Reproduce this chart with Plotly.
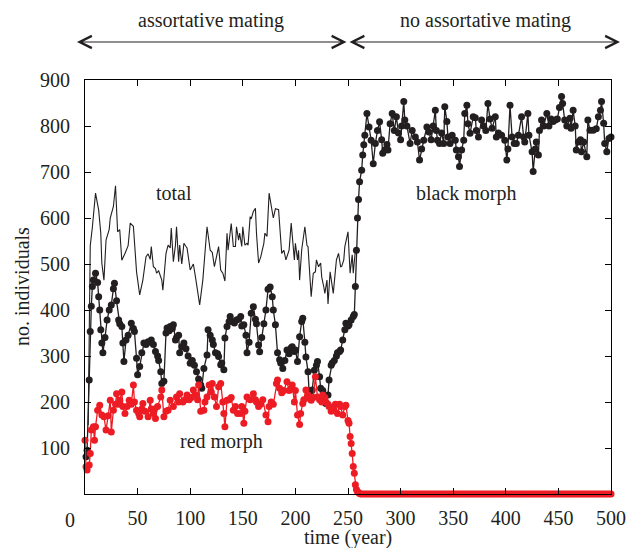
import plotly.graph_objects as go

# ---- data ----
total_t = [3, 5, 7, 10, 13, 15, 16, 18, 20, 23, 24, 27, 29, 31, 33, 35, 38, 41, 43, 46, 49, 50, 52, 55, 58,
           60, 62, 63, 65, 67, 68, 70, 73, 74, 77, 79, 81, 82, 84, 86, 87, 89, 90, 92, 94, 96, 97, 100, 103,
           105, 109, 112, 116, 119, 121, 123, 125, 127, 129, 131, 133, 135, 136, 138, 139, 141, 143, 144, 146,
           147, 149, 150, 152, 154, 155, 157, 158, 160, 162, 163, 165, 167, 170, 171, 173, 175, 178, 179, 181,
           184, 187, 189, 191, 194, 196, 199, 200, 202, 203, 204, 206, 208, 209, 211, 212, 214, 215, 217, 219,
           220, 222, 224, 225, 227, 228, 230, 231, 233, 235, 236, 238, 239, 241, 243, 244, 246, 247, 249, 250,
           252, 254, 255, 256, 257]
total_v = [150, 540, 580, 654, 617, 567, 502, 465, 552, 575, 600, 625, 670, 570, 575, 508, 523, 540, 589, 582,
           483, 465, 433, 465, 516, 522, 510, 538, 494, 490, 480, 485, 465, 443, 523, 541, 535, 578, 505, 541,
           581, 505, 541, 500, 545, 538, 535, 487, 500, 472, 411, 465, 581, 530, 525, 494, 515, 538, 487, 480,
           463, 567, 530, 567, 588, 538, 538, 581, 552, 567, 538, 581, 541, 545, 541, 603, 598, 614, 621, 567,
           502, 515, 545, 567, 560, 654, 618, 600, 620, 618, 523, 530, 509, 530, 589, 509, 545, 509, 530, 465,
           531, 567, 581, 540, 538, 465, 429, 480, 483, 509, 494, 502, 472, 450, 436, 465, 413, 483, 443, 436,
           485, 509, 523, 494, 495, 509, 538, 566, 570, 480, 520, 480, 500, 530]

black_t = [1, 2, 4, 5, 6, 7, 8, 10, 12, 13, 14, 15, 16, 17, 19, 21, 23, 25, 27, 28, 30, 32, 33, 35, 36, 37, 39,
           41, 44, 46, 47, 49, 50, 52, 54, 56, 58, 60, 62, 63, 65, 67, 69, 70, 72, 73, 75, 77, 78, 80, 81, 83,
           84, 86, 87, 89, 90, 92, 94, 96, 98, 100, 102, 104, 106, 108, 110, 111, 113, 116, 117, 119, 121, 122,
           124, 126, 127, 129, 130, 132, 133, 135, 137, 138, 140, 142, 144, 146, 148, 149, 151, 153, 154, 156,
           158, 160, 162, 163, 165, 166, 168, 170, 172, 174, 176, 178, 179, 181, 183, 185, 186, 188, 190, 192,
           194, 196, 197, 199, 200, 202, 204, 206, 207, 209, 210, 212, 213, 215, 216, 218, 220, 221, 223, 224,
           226, 227, 229, 231, 232, 234, 235, 237, 239, 240, 242, 243, 245, 247, 248, 250, 251, 253, 255, 256,
           257, 258, 259, 260, 261, 263, 264, 265, 266, 268, 270, 272, 274, 276, 278, 280, 282, 283, 285, 287,
           288, 290, 292, 294, 296, 298, 300, 301, 303, 304, 306, 309, 311, 314, 316, 318, 320, 322, 325, 327,
           329, 331, 333, 334, 335, 337, 339, 341, 342, 344, 345, 347, 349, 352, 353, 355, 356, 358, 360, 361,
           363, 364, 366, 369, 371, 372, 374, 377, 379, 381, 383, 385, 387, 390, 391, 393, 396, 399, 401, 402,
           404, 406, 408, 410, 412, 415, 417, 418, 421, 422, 425, 426, 428, 429, 431, 432, 434, 436, 439, 441,
           443, 445, 447, 449, 451, 453, 454, 456, 458, 461, 462, 464, 466, 467, 469, 471, 472, 474, 477, 478,
           480, 483, 486, 488, 490, 491, 493, 494, 496, 498, 500]
black_v = [81, 95, 248, 353, 408, 451, 465, 480, 460, 429, 400, 357, 328, 307, 340, 378, 400, 411, 446, 458,
           420, 378, 370, 364, 328, 288, 335, 345, 371, 360, 353, 295, 259, 277, 307, 328, 325, 331, 330, 335,
           325, 310, 300, 290, 266, 240, 245, 350, 361, 355, 364, 360, 368, 335, 340, 345, 307, 320, 328, 316,
           300, 284, 290, 280, 266, 250, 237, 230, 273, 302, 357, 345, 335, 325, 307, 305, 299, 281, 285, 270,
           339, 364, 375, 386, 375, 372, 378, 380, 386, 365, 368, 345, 307, 330, 393, 407, 380, 370, 324, 309,
           340, 370, 400, 445, 450, 429, 400, 368, 307, 292, 285, 273, 290, 313, 305, 318, 320, 310, 313, 288,
           342, 375, 382, 330, 298, 266, 222, 225, 226, 269, 280, 288, 255, 230, 225, 204, 197, 215, 248, 280,
           285, 290, 300, 307, 310, 313, 335, 357, 371, 365, 368, 378, 386, 390, 451, 530, 600, 640, 679, 704,
           737, 759, 780, 827, 798, 769, 718, 762, 790, 809, 770, 741, 748, 760, 748, 805, 827, 790, 820, 785,
           770, 800, 853, 813, 800, 762, 790, 776, 765, 726, 750, 769, 798, 787, 770, 800, 834, 790, 769, 762,
           785, 762, 842, 810, 776, 762, 780, 769, 748, 733, 712, 748, 769, 827, 845, 805, 784, 820, 818, 790,
           776, 813, 800, 790, 849, 815, 795, 820, 776, 785, 780, 769, 726, 750, 845, 776, 762, 762, 780, 820,
           776, 765, 827, 780, 744, 701, 750, 765, 737, 790, 813, 800, 827, 800, 815, 810, 813, 815, 840, 864,
           849, 813, 800, 817, 795, 834, 800, 748, 765, 770, 744, 765, 733, 813, 791, 791, 794, 820, 834, 853,
           806, 762, 744, 773, 776]

red_t = [0, 1, 2, 4, 5, 6, 8, 9, 10, 12, 14, 16, 18, 20, 22, 24, 25, 27, 29, 30, 32, 33, 35, 36, 38, 40, 42,
         44, 46, 47, 49, 51, 52, 54, 55, 57, 60, 62, 63, 65, 66, 67, 69, 72, 73, 75, 77, 79, 81, 84, 87, 89, 90,
         93, 95, 97, 99, 101, 103, 105, 107, 108, 110, 113, 114, 116, 118, 120, 121, 123, 125, 127, 129, 131,
         132, 133, 135, 137, 139, 141, 143, 145, 148, 149, 151, 152, 154, 157, 160, 162, 163, 165, 167, 169,
         172, 174, 175, 177, 179, 182, 183, 185, 187, 189, 192, 194, 196, 197, 199, 200, 202, 204, 205, 207,
         208, 210, 212, 213, 215, 217, 219, 221, 223, 225, 226, 228, 229, 231, 232, 234, 236, 238, 240, 242,
         243, 245, 247, 248, 250, 251, 252, 253, 254, 255, 256, 257, 258, 259, 260, 261]
red_v = [117, 59, 52, 63, 88, 139, 146, 117, 146, 182, 193, 172, 168, 139, 170, 204, 135, 182, 195, 218, 195,
         204, 222, 190, 175, 190, 204, 195, 237, 200, 182, 175, 168, 185, 197, 180, 168, 204, 185, 175, 185,
         164, 190, 211, 226, 168, 180, 182, 204, 190, 211, 200, 218, 200, 205, 215, 205, 210, 226, 215, 205,
         237, 180, 182, 200, 211, 237, 222, 240, 211, 190, 233, 240, 200, 175, 146, 204, 205, 210, 182, 190,
         175, 175, 190, 154, 180, 211, 205, 218, 205, 200, 190, 195, 205, 172, 157, 190, 200, 195, 240, 248,
         230, 220, 225, 244, 225, 230, 237, 200, 225, 172, 151, 175, 197, 205, 226, 215, 208, 204, 210, 255,
         211, 205, 200, 215, 210, 200, 195, 190, 180, 185, 195, 175, 195, 190, 172, 190, 193, 160, 154, 125,
         110, 88, 60, 45, 20, 10, 5, 3, 1]
# red morph extinct after year ~262
red_zero_t = list(range(262, 501, 2))
red_zero_v = [0] * len(red_zero_t)

BLACK = "#231f20"
RED = "#ed1c24"
FONT = "Liberation Serif"

fig = go.Figure()
fig.add_trace(go.Scatter(x=total_t, y=total_v, mode="lines",
                         line=dict(color=BLACK, width=1.1), showlegend=False))
fig.add_trace(go.Scatter(x=black_t, y=black_v, mode="lines+markers",
                         line=dict(color=BLACK, width=1.3),
                         marker=dict(color=BLACK, size=7), cliponaxis=False, showlegend=False))
fig.add_trace(go.Scatter(x=red_t + red_zero_t, y=red_v + red_zero_v, mode="lines+markers",
                         line=dict(color=RED, width=1.3),
                         marker=dict(color=RED, size=7), cliponaxis=False, showlegend=False))

axis_common = dict(showline=True, linecolor="black", linewidth=1, mirror="ticks",
                   ticks="inside", ticklen=6, tickwidth=1, tickcolor="black",
                   showgrid=False, zeroline=False, automargin=False,
                   tickfont=dict(family=FONT, size=20, color="#231f20"))

fig.update_xaxes(range=[0, 500], tickvals=[50, 100, 150, 200, 250, 300, 350, 400, 450, 500],
                 ticklabelstandoff=6, **axis_common)
fig.update_yaxes(range=[0, 900], tickvals=[0, 100, 200, 300, 400, 500, 600, 700, 800, 900],
                 ticktext=["", "100", "200", "300", "400", "500", "600", "700", "800", "900"],
                 ticklabelstandoff=10, **axis_common)

txt = dict(family=FONT, size=20, color="#231f20")
# paper coords: plot area spans x 85..611 px, y 80..494 px of the page
def px(xp):
    return (xp - 85) / 526.0
def py(yp):
    return (494 - yp) / 414.0

def label(x, y, text, **kw):
    d = dict(x=x, y=y, xref="paper", yref="paper", text=text, showarrow=False, font=txt,
             xanchor="center", yanchor="middle")
    d.update(kw)
    return d

annotations = [
    label(px(70), py(520), "0"),
    label(px(348), py(537), "time (year)"),
    label(px(22), py(287), "no. individuals", textangle=-90),
    dict(x=85, y=654, xref="x", yref="y", text="total", showarrow=False, font=txt,
         xanchor="center", yanchor="middle"),
    dict(x=363, y=654, xref="x", yref="y", text="black morph", showarrow=False, font=txt,
         xanchor="center", yanchor="middle"),
    dict(x=130, y=115, xref="x", yref="y", text="red morph", showarrow=False, font=txt,
         xanchor="center", yanchor="middle"),
    label(px(211), py(20), "assortative mating"),
    label(px(485), py(20), "no assortative mating"),
    # double-headed arrows marking the two phases
    dict(x=px(77), y=py(42), xref="paper", yref="paper", ax=271, ay=0, axref="pixel", ayref="pixel",
         text="", showarrow=True, arrowhead=5, startarrowhead=5, arrowside="end+start", arrowsize=2,
         startarrowsize=2, arrowwidth=1.2, arrowcolor=BLACK, standoff=0, startstandoff=0),
    dict(x=px(620), y=py(42), xref="paper", yref="paper", ax=-272, ay=0, axref="pixel", ayref="pixel",
         text="", showarrow=True, arrowhead=5, startarrowhead=5, arrowside="end+start", arrowsize=2,
         startarrowsize=2, arrowwidth=1.2, arrowcolor=BLACK, standoff=0, startstandoff=0),
]

# the page body adds an 8 px offset, so the figure is 8 px smaller and shifted margins
fig.update_layout(width=631, height=540, margin=dict(l=77, r=28, t=72, b=54, autoexpand=False),
                  paper_bgcolor="white", plot_bgcolor="white",
                  font=dict(family=FONT, color="#231f20"),
                  annotations=annotations, showlegend=False)

fig.write_html("out.html")
